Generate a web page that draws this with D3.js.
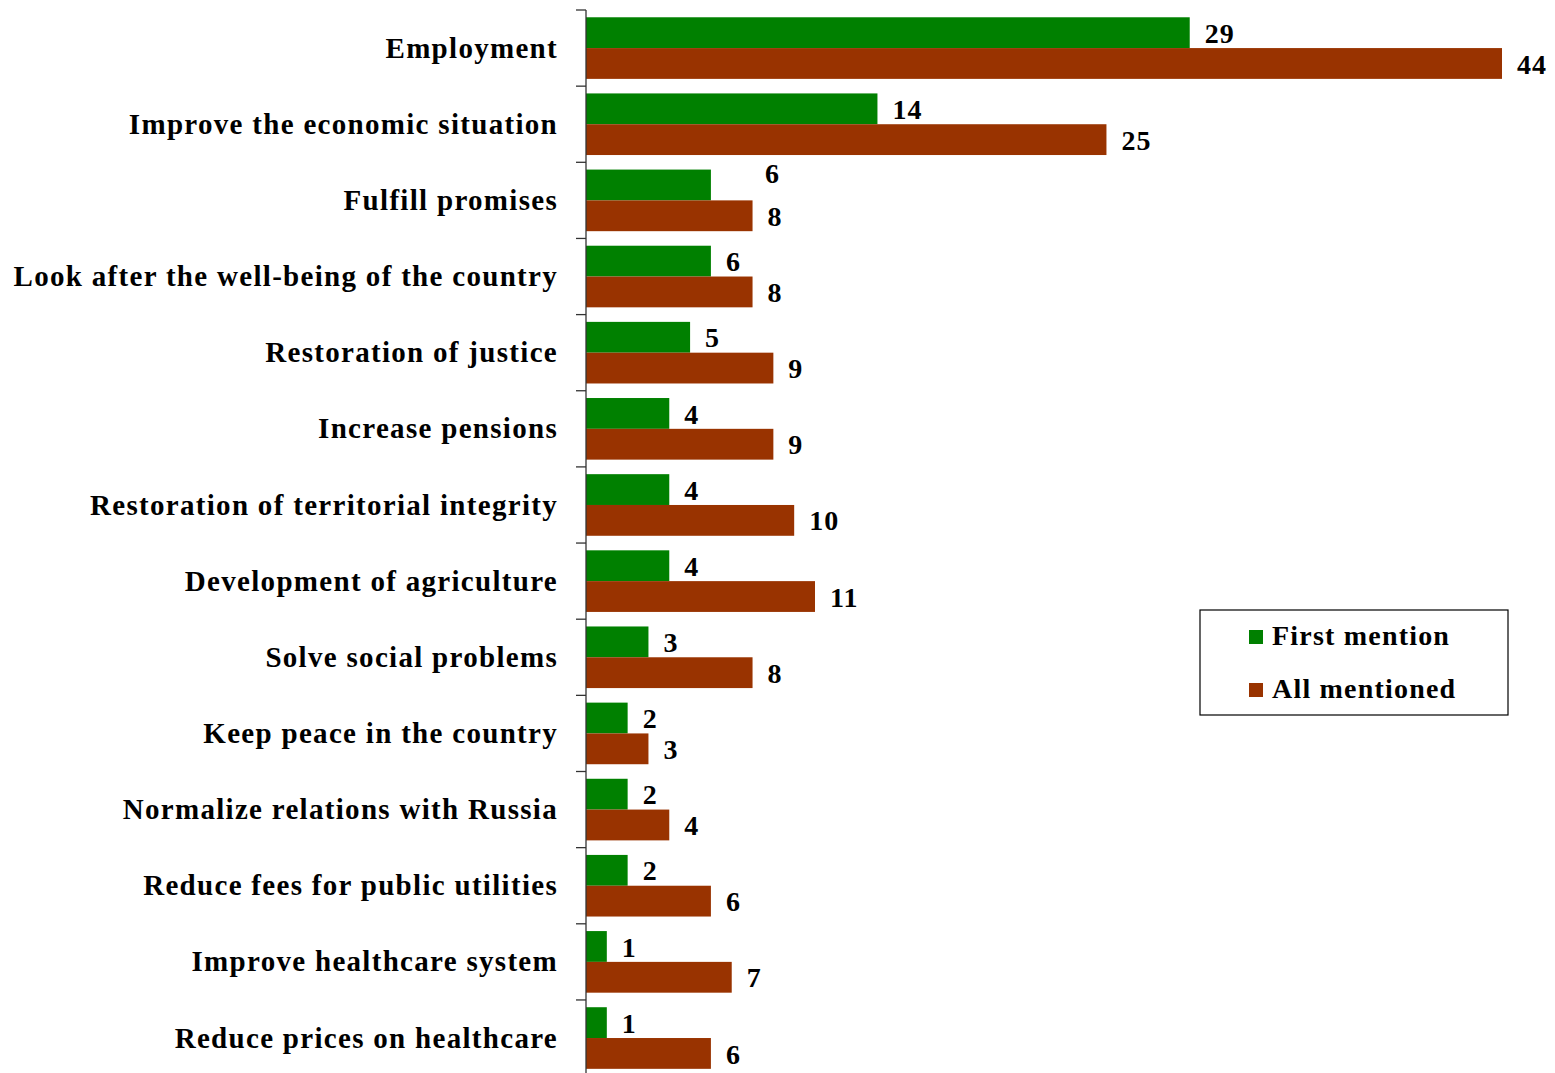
<!DOCTYPE html>
<html><head><meta charset="utf-8">
<script src="https://cdn.jsdelivr.net/npm/d3@7"></script>
<style>html,body{margin:0;padding:0;background:#fff;}svg{display:block;}</style>
</head><body>
<svg id="chart" width="1555" height="1073"></svg>
<script>
const categories = [
  "Employment",
  "Improve the economic situation",
  "Fulfill promises",
  "Look after the well-being of the country",
  "Restoration of justice",
  "Increase pensions",
  "Restoration of territorial integrity",
  "Development of agriculture",
  "Solve social problems",
  "Keep peace in the country",
  "Normalize relations with Russia",
  "Reduce fees for public utilities",
  "Improve healthcare system",
  "Reduce prices on healthcare"
];
const firstMention = [29, 14, 6, 6, 5, 4, 4, 4, 3, 2, 2, 2, 1, 1];
const allMentioned = [44, 25, 8, 8, 9, 9, 10, 11, 8, 3, 4, 6, 7, 6];
const seriesNames = ["First mention", "All mentioned"];
const seriesColors = ["#008000", "#993300"];

const svg = d3.select("#chart");
const FONT = "'Liberation Serif','Times New Roman',serif";
const x0 = 586, xMax = 1502;
const x = d3.scaleLinear().domain([0, 44]).range([x0, xMax]);
const y = d3.scaleBand().domain(categories).range([10, 10 + 76.15 * categories.length]).paddingInner(0).paddingOuter(0);
const sub = d3.scaleBand().domain(seriesNames).range([0, y.bandwidth()]).paddingInner(0).paddingOuter(0.236);

const data = categories.map((c, i) => ({cat: c, vals: [firstMention[i], allMentioned[i]]}));

// bars
const g = svg.append("g");
data.forEach((d, i) => {
  d.vals.forEach((v, s) => {
    g.append("rect")
      .attr("x", x(0))
      .attr("y", y(d.cat) + sub(seriesNames[s]))
      .attr("width", x(v) - x(0))
      .attr("height", sub.bandwidth())
      .attr("fill", seriesColors[s]);
  });
});

// value labels
data.forEach((d, i) => {
  d.vals.forEach((v, s) => {
    let lx = x(v) + 15, ly = y(d.cat) + sub(seriesNames[s]) + sub.bandwidth() / 2;
    if (d.cat === "Fulfill promises" && s === 0) { lx += 39; ly -= 12; }
    svg.append("text")
      .attr("x", lx).attr("y", ly).attr("dy", "0.36em")
      .attr("font-family", FONT).attr("font-weight", "bold").attr("font-size", 28)
      .attr("letter-spacing", 1)
      .attr("fill", "#000").text(v);
  });
});

// axis
const axis = d3.axisLeft(y).tickSize(0).tickFormat("");
const ag = svg.append("g").attr("transform", `translate(${x0},0)`).call(axis);
ag.select(".domain").attr("stroke", "#333").attr("stroke-width", 1.3);
const bounds = d3.range(categories.length + 1).map(i => y.range()[0] + i * y.step());
ag.selectAll(".btick").data(bounds).enter().append("line")
  .attr("x1", -10).attr("x2", 0).attr("y1", d => d).attr("y2", d => d)
  .attr("stroke", "#333").attr("stroke-width", 1.3);
ag.select(".domain").attr("d", `M0,${bounds[0]}V${bounds[bounds.length-1]}`);

// category labels
svg.append("g").selectAll("text").data(categories).enter().append("text")
  .attr("x", 558).attr("y", d => y(d) + y.bandwidth() / 2).attr("dy", "0.33em")
  .attr("text-anchor", "end")
  .attr("font-family", FONT).attr("font-weight", "bold").attr("font-size", 29)
  .attr("letter-spacing", 1.3)
  .attr("fill", "#000").text(d => d);

// legend
const lg = svg.append("g");
lg.append("rect").attr("x", 1200).attr("y", 610).attr("width", 308).attr("height", 105)
  .attr("fill", "#fff").attr("stroke", "#000").attr("stroke-width", 1.2);
seriesNames.forEach((n, i) => {
  lg.append("rect").attr("x", 1249).attr("y", 630 + i * 53).attr("width", 14).attr("height", 14)
    .attr("fill", seriesColors[i]);
  lg.append("text").attr("x", 1272).attr("y", 645 + i * 52.5)
    .attr("font-family", FONT).attr("font-weight", "bold").attr("font-size", 28)
    .attr("letter-spacing", 1.2)
    .attr("fill", "#000").text(n);
});
</script>
</body></html>
